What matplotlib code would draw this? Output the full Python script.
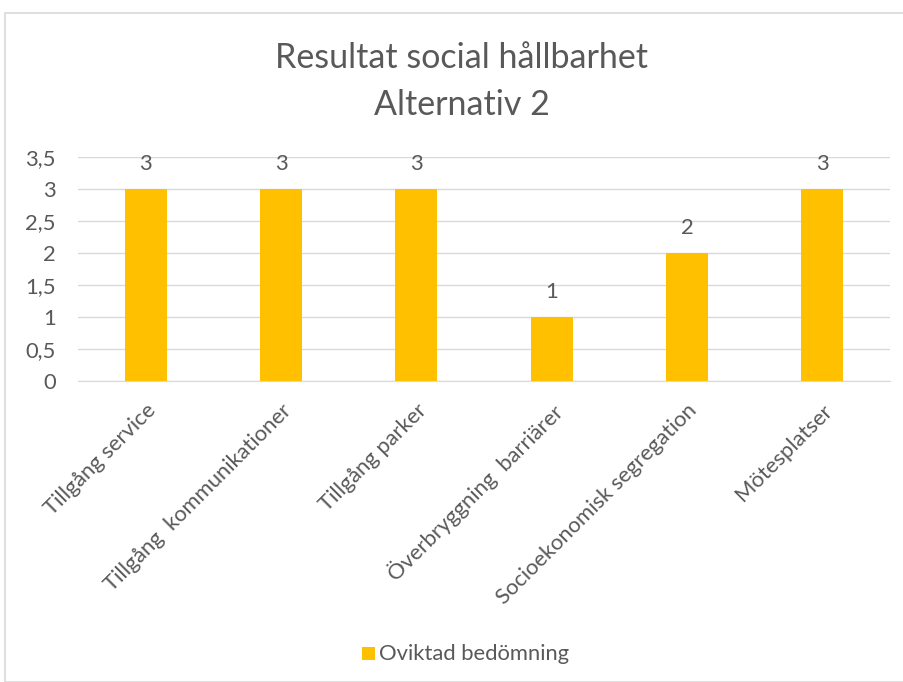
import matplotlib
matplotlib.use("Agg")
import matplotlib.pyplot as plt
from matplotlib.patches import Rectangle

categories = ["Tillgång service", "Tillgång  kommunikationer", "Tillgång parker",
              "Överbryggning  barriärer", "Socioekonomisk segregation", "Mötesplatser"]
values = [3, 3, 3, 1, 2, 3]
yticks = [0, 0.5, 1, 1.5, 2, 2.5, 3, 3.5]
ytick_labels = ["0", "0,5", "1", "1,5", "2", "2,5", "3", "3,5"]
series_name = "Oviktad bedömning"

plt.rcParams['font.family'] = ['Lato', 'DejaVu Sans']
txt = "#595959"
FS = 15.8
W, H = 904, 682
fig = plt.figure(figsize=(W/100, H/100), dpi=100)
fig.patches.append(Rectangle((5/W, 0), 1.0, 1 - 13/H, transform=fig.transFigure,
                             fill=False, edgecolor="#D9D9D9", linewidth=1.2))

ax = fig.add_axes([78/W, 1 - 381/H, (890-78)/W, (381-157)/H])
x = list(range(len(categories)))
ax.bar(x, values, width=0.31, color="#FFC000", zorder=3)
ax.set_xlim(-0.5, len(categories) - 0.5)
ax.set_ylim(0, 3.5)
ax.set_yticks(yticks)
ax.set_yticklabels(ytick_labels, fontsize=FS, color=txt)
ax.grid(axis='y', color="#D9D9D9", linewidth=1, zorder=0)
for s in ["top", "right", "left"]:
    ax.spines[s].set_visible(False)
ax.spines["bottom"].set_color("#D9D9D9")
ax.tick_params(axis='both', length=0)
ax.tick_params(axis='y', pad=16)
ax.set_xticks(x)
ax.set_xticklabels(categories, rotation=45, ha='right', va='top', rotation_mode='anchor',
                   fontsize=FS, color=txt)
ax.tick_params(axis='x', pad=14)
for xi, v in zip(x, values):
    ax.annotate(str(v), (xi, v), xytext=(0, 18), textcoords='offset points',
                ha='center', va='center', fontsize=FS, color=txt)

fig.text(462/W, 1 - 58/H, "Resultat social hållbarhet", ha='center', va='center',
         fontsize=24.5, color=txt)
fig.text(462/W, 1 - 105/H, "Alternativ 2", ha='center', va='center',
         fontsize=24.5, color=txt)

fig.patches.append(Rectangle((362/W, 1 - 660/H), 13/W, 13/H, transform=fig.transFigure,
                             facecolor="#FFC000", edgecolor="none"))
fig.text(379/W, 1 - 654/H, series_name, ha='left', va='center', fontsize=FS, color=txt)

fig.savefig("out.png", dpi=100)
